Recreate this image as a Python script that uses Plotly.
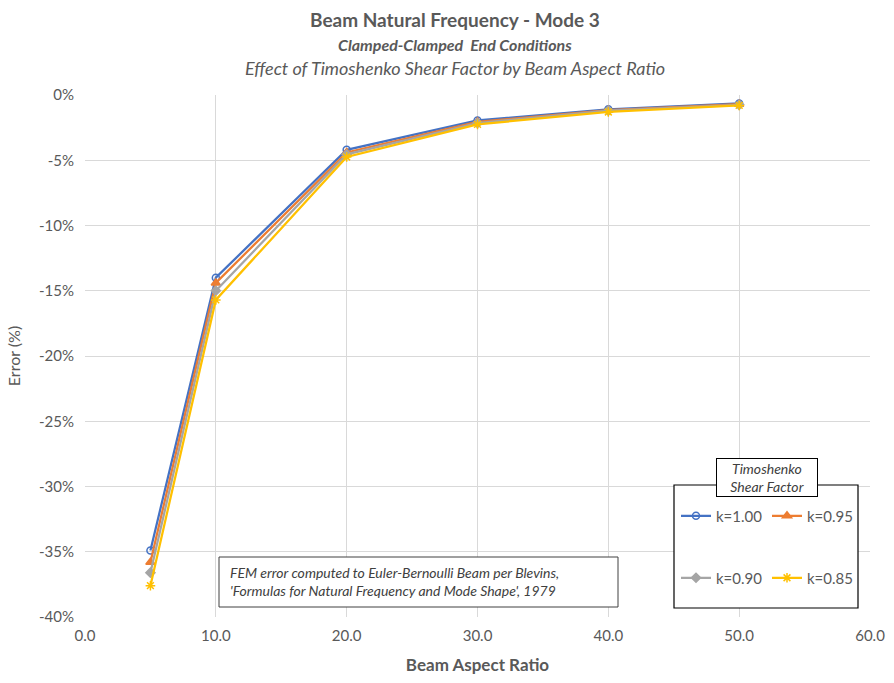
import plotly.graph_objects as go

# Beam aspect ratios (L/h) and FEM frequency error vs Euler-Bernoulli, mode 3
aspect_ratio = [5, 10, 20, 30, 40, 50]
err_k100 = [-34.9, -14.0, -4.2, -1.95, -1.10, -0.65]
err_k095 = [-35.8, -14.4, -4.4, -2.05, -1.15, -0.70]
err_k090 = [-36.6, -15.0, -4.55, -2.15, -1.20, -0.75]
err_k085 = [-37.6, -15.7, -4.75, -2.25, -1.30, -0.80]

series_names = ["k=1.00", "k=0.95", "k=0.90", "k=0.85"]
y_ticks = [0, -5, -10, -15, -20, -25, -30, -35, -40]
y_ticktext = [f"{v}%" for v in y_ticks]
x_ticks = [0, 10, 20, 30, 40, 50, 60]
x_ticktext = [f"{v:.1f}" for v in x_ticks]

FONT = "Lato, 'Open Sans', sans-serif"
TXT = "#595959"

styles = [
    dict(color="#4472C4", symbol="circle-open", size=7, legend="legend"),
    dict(color="#ED7D31", symbol="triangle-up", size=8, legend="legend"),
    dict(color="#A5A5A5", symbol="diamond", size=7, legend="legend2"),
    dict(color="#FFC000", symbol="asterisk-open", size=8, legend="legend2"),
]

fig = go.Figure()
for name, vals, st in zip(series_names, [err_k100, err_k095, err_k090, err_k085], styles):
    fig.add_trace(go.Scatter(
        x=aspect_ratio, y=vals, name=name, mode="lines+markers",
        line=dict(color=st["color"], width=2.25),
        marker=dict(symbol=st["symbol"], size=st["size"], color=st["color"],
                    line=dict(color=st["color"], width=1.5)),
        legend=st["legend"],
    ))

L, R, T, B = 85, 24, 95, 66
W, H = 894, 683
pw, ph = W - L - R, H - T - B


def px(x):
    return (x - L) / pw


def py(y):
    return (H - B - y) / ph


def title_line(text, y, size):
    return dict(text=text, xref="paper", yref="paper", x=px(455), y=py(y),
                xanchor="center", yanchor="middle", showarrow=False,
                font=dict(family=FONT, size=size, color=TXT))


legend_common = dict(
    orientation="h", xanchor="left", yanchor="middle",
    bgcolor="rgba(0,0,0,0)", font=dict(size=15, color=TXT),
    entrywidth=46, itemwidth=30, tracegroupgap=0,
)

fig.update_layout(
    width=W, height=H,
    margin=dict(l=L, r=R, t=T, b=B, autoexpand=False),
    paper_bgcolor="white", plot_bgcolor="white",
    font=dict(family=FONT, color=TXT, size=15),
    xaxis=dict(
        range=[0, 60], tickvals=x_ticks, ticktext=x_ticktext,
        showgrid=True, gridcolor="#D9D9D9", gridwidth=1, zeroline=False,
        showline=False, ticks="", tickfont=dict(size=15, color=TXT),
        ticklabelstandoff=8,
        title=dict(text="<b>Beam Aspect Ratio</b>", font=dict(size=17, color=TXT), standoff=16),
    ),
    yaxis=dict(
        range=[-40, 0], tickvals=y_ticks, ticktext=y_ticktext,
        showgrid=True, gridcolor="#D9D9D9", gridwidth=1, zeroline=False,
        showline=False, ticks="", tickfont=dict(size=15, color=TXT),
        ticklabelstandoff=10,
        title=dict(text="Error (%)", font=dict(size=16, color=TXT), standoff=14),
    ),
    legend=dict(x=px(676), y=py(516), **legend_common),
    legend2=dict(x=px(676), y=py(578), **legend_common),
    shapes=[
        # legend frame
        dict(type="rect", xref="paper", yref="paper",
             x0=px(674), x1=px(858), y0=py(608), y1=py(485),
             line=dict(color="black", width=1.2), fillcolor="white", layer="above"),
        # note frame
        dict(type="rect", xref="paper", yref="paper",
             x0=px(219), x1=px(618), y0=py(607), y1=py(557),
             line=dict(color="#404040", width=1), fillcolor="white", layer="above"),
    ],
    annotations=[
        title_line("<b>Beam Natural Frequency - Mode 3</b>", 19, 19),
        title_line("<b><i>Clamped-Clamped  End Conditions</i></b>", 44, 16),
        title_line("<i>Effect of Timoshenko Shear Factor by Beam Aspect Ratio</i>", 68, 18),
        dict(text="<i>Timoshenko<br>Shear Factor</i>", xref="paper", yref="paper",
             x=px(767), y=py(477), xanchor="center", yanchor="middle", showarrow=False,
             font=dict(size=14, color="#404040"), bgcolor="white",
             bordercolor="black", borderwidth=1, borderpad=1, width=98, align="center"),
        dict(text="<i>FEM error computed to Euler-Bernoulli Beam per Blevins,<br>"
                  "'Formulas for Natural Frequency and Mode Shape', 1979</i>",
             xref="paper", yref="paper", x=px(228), y=py(581),
             xanchor="left", yanchor="middle", showarrow=False, align="left",
             font=dict(size=14, color="#404040")),
    ],
)

fig.write_html("out.html")
